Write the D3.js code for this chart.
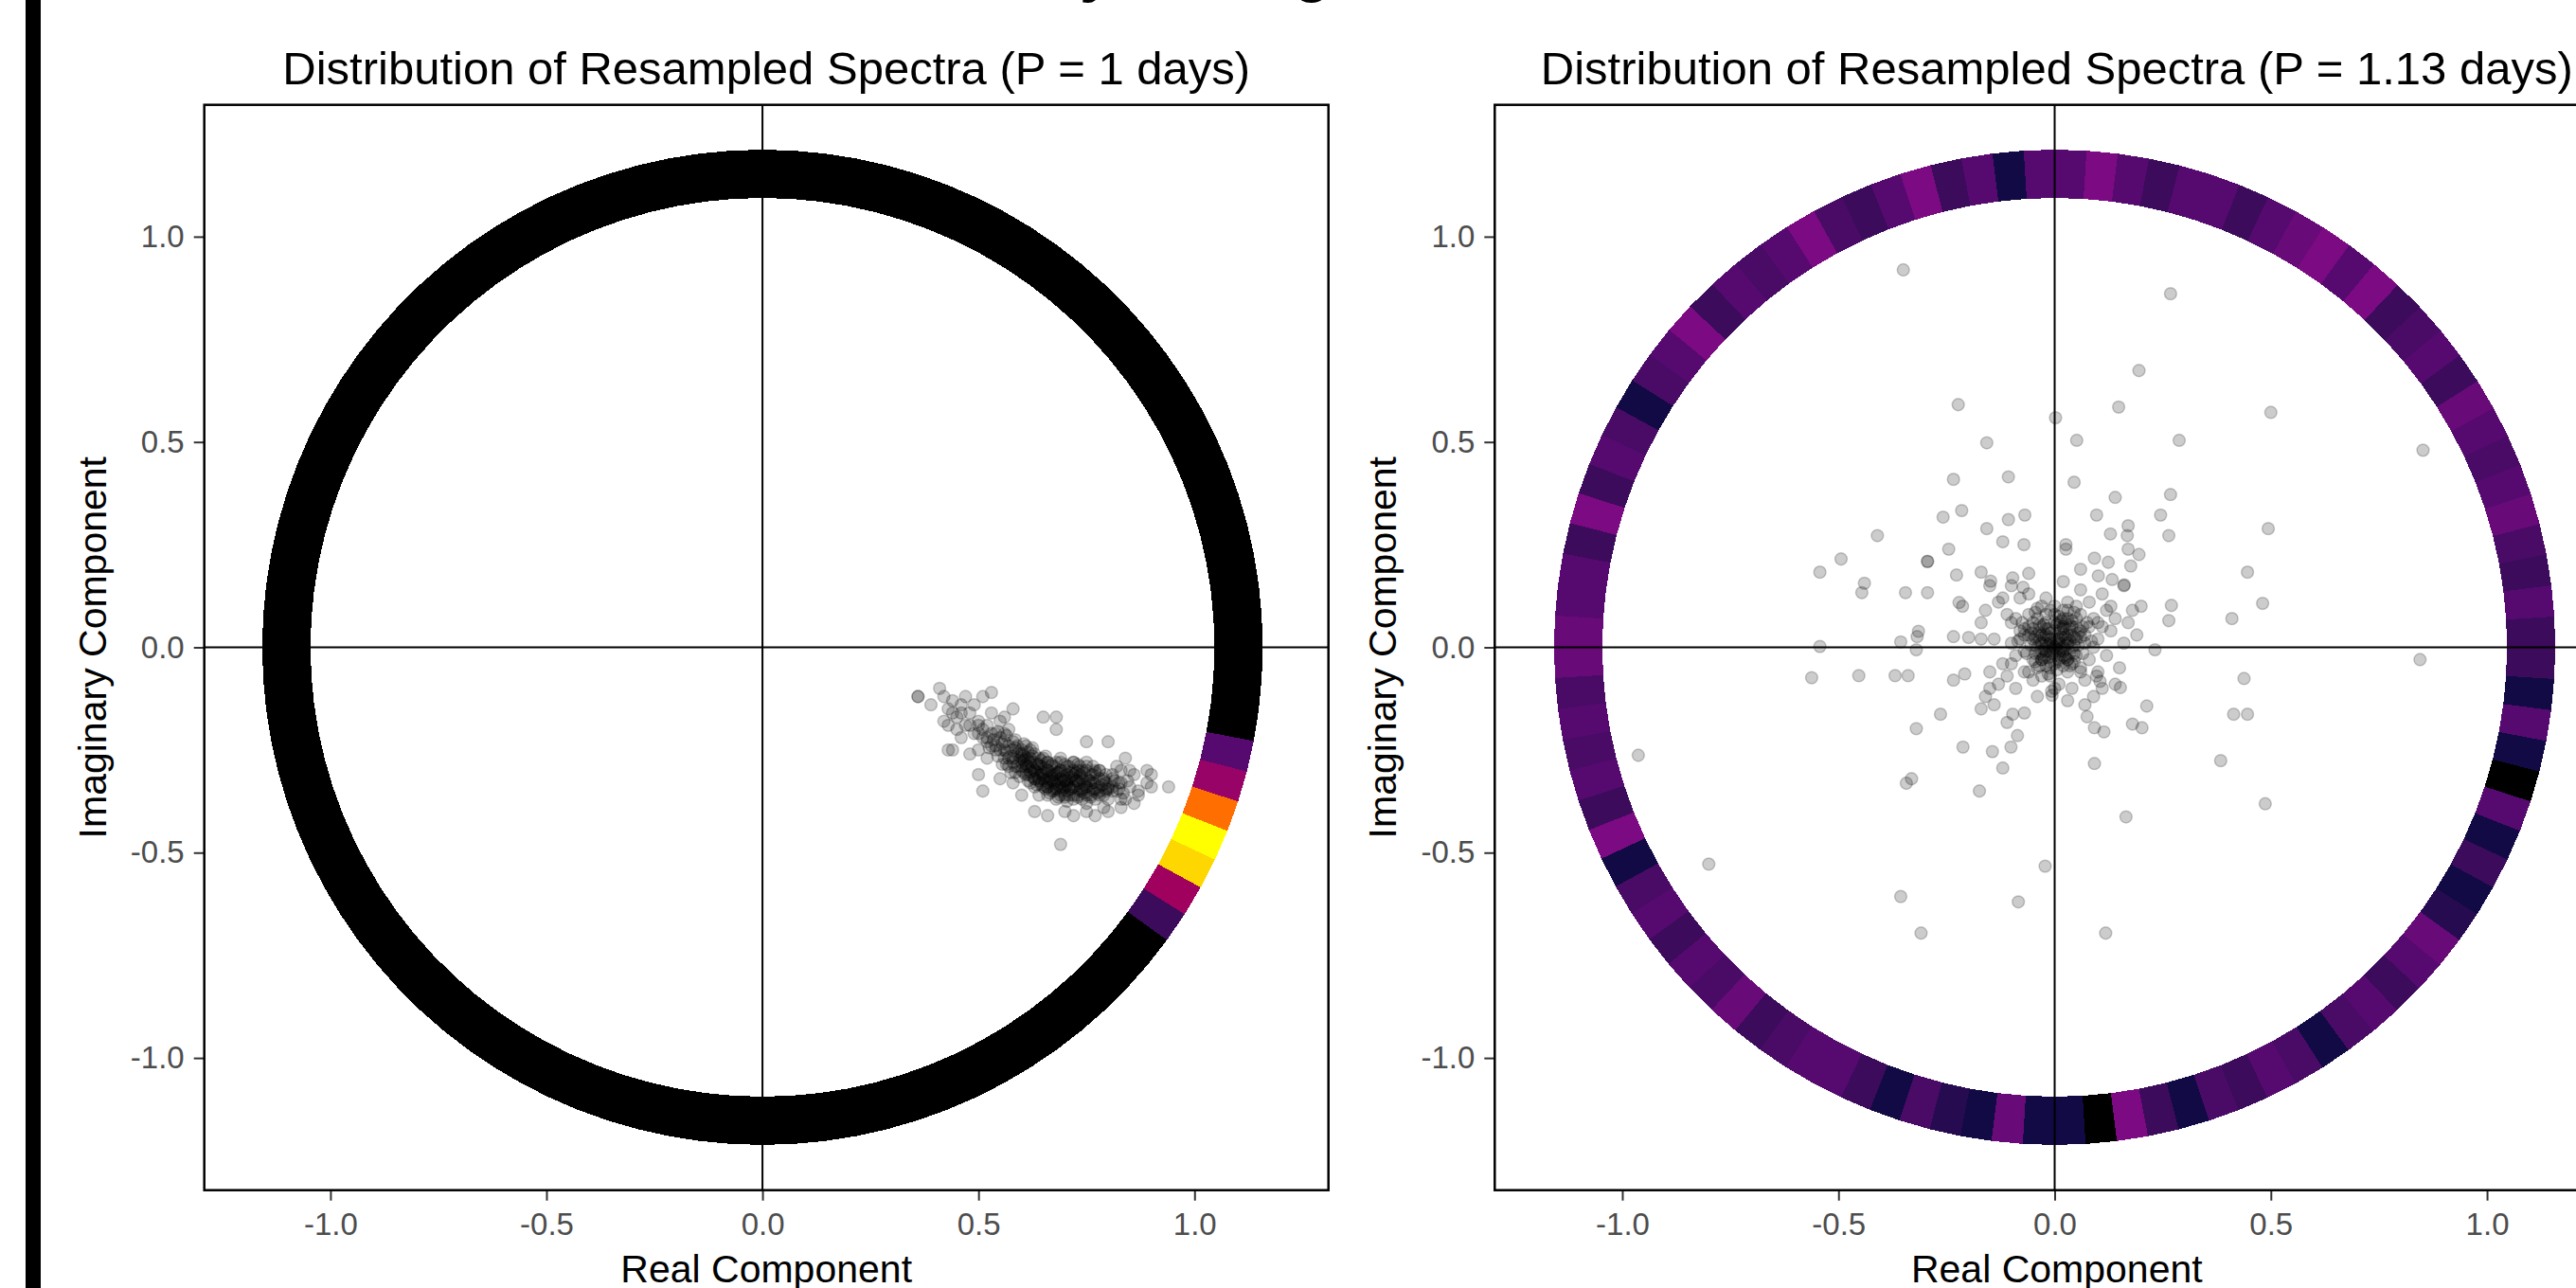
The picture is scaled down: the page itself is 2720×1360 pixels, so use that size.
<!DOCTYPE html>
<html>
<head>
<meta charset="utf-8">
<script src="https://cdn.jsdelivr.net/npm/d3@7"></script>
<style>
  body { margin: 0; background: #fff; }
  svg { display: block; }
  text { font-family: "Liberation Sans", Arial, sans-serif; }
</style>
</head>
<body>
<svg id="chart" width="2720" height="1360"></svg>
<script>
// ---- data ----
const X_TICKS = [-1, -0.5, 0, 0.5, 1];
const Y_TICKS = [-1, -0.5, 0, 0.5, 1];
const Y_DOMAIN = [-1.322, 1.321];
const RING_RX = 1.102;    // ring half-width along the real axis
const RING_RY = 1.153;    // ring half-height along the imaginary axis
const N_BINS = 100;       // phase bins around the ring

// left panel: phase density is zero except a few bins near -25 deg
const ringLeftHot = [[90, 0.25], [91, 0.6], [92, 0.9], [93, 1.0], [94, 0.8], [95, 0.57], [96, 0.38]];

// right panel: phase density per bin, counter-clockwise from 0 deg
const ringRight = [
  0.25, 0.38, 0.25, 0.315, 0.43, 0.38, 0.315, 0.38, 0.43, 0.25,
  0.38, 0.315, 0.25, 0.48, 0.38, 0.48, 0.43, 0.38, 0.25, 0.38,
  0.38, 0.25, 0.38, 0.48, 0.38, 0.38, 0.12, 0.38, 0.25, 0.48,
  0.38, 0.25, 0.315, 0.48, 0.38, 0.315, 0.38, 0.25, 0.48, 0.38,
  0.315, 0.12, 0.315, 0.38, 0.25, 0.48, 0.25, 0.38, 0.38, 0.43,
  0.43, 0.315, 0.38, 0.315, 0.38, 0.25, 0.48, 0.12, 0.315, 0.38,
  0.25, 0.38, 0.315, 0.43, 0.25, 0.315, 0.38, 0.38, 0.25, 0.12,
  0.315, 0.185, 0.12, 0.43, 0.12, 0.12, 0.0, 0.48, 0.25, 0.12,
  0.315, 0.25, 0.38, 0.315, 0.12, 0.315, 0.38, 0.25, 0.38, 0.43,
  0.185, 0.12, 0.25, 0.12, 0.38, 0.0, 0.12, 0.38, 0.12, 0.25
];

const pointsLeft = [
  // core
  [0.55,-0.25],[0.56,-0.27],[0.57,-0.24],[0.58,-0.28],[0.59,-0.26],[0.60,-0.29],[0.60,-0.25],[0.61,-0.31],
  [0.61,-0.27],[0.62,-0.28],[0.62,-0.33],[0.63,-0.30],[0.63,-0.26],[0.64,-0.32],[0.64,-0.29],[0.65,-0.34],
  [0.65,-0.31],[0.65,-0.27],[0.66,-0.30],[0.66,-0.33],[0.67,-0.29],[0.67,-0.35],[0.67,-0.32],[0.68,-0.31],
  [0.68,-0.34],[0.68,-0.28],[0.69,-0.33],[0.69,-0.30],[0.70,-0.36],[0.70,-0.32],[0.71,-0.29],[0.71,-0.34],
  [0.72,-0.31],[0.72,-0.37],[0.73,-0.33],[0.73,-0.30],[0.74,-0.35],[0.74,-0.32],[0.75,-0.34],[0.75,-0.29],
  [0.76,-0.36],[0.76,-0.31],[0.77,-0.33],[0.78,-0.35],[0.78,-0.30],[0.79,-0.32],[0.80,-0.34],[0.80,-0.37],
  [0.81,-0.31],[0.82,-0.35],[0.83,-0.33],[0.84,-0.37],[0.85,-0.34],[0.86,-0.31],[0.87,-0.36],
  [0.62,-0.30],[0.63,-0.34],[0.64,-0.36],[0.66,-0.36],[0.66,-0.28],[0.67,-0.31],[0.68,-0.37],[0.69,-0.35],
  [0.69,-0.27],[0.70,-0.30],[0.70,-0.34],[0.71,-0.32],[0.72,-0.34],[0.72,-0.28],[0.73,-0.36],[0.74,-0.30],
  [0.75,-0.38],[0.76,-0.33],[0.77,-0.37],[0.77,-0.30],[0.65,-0.32],[0.64,-0.27],[0.63,-0.32],[0.61,-0.29],
  [0.59,-0.29],[0.58,-0.25],[0.57,-0.29],[0.68,-0.32],[0.71,-0.36],[0.74,-0.37],[0.79,-0.36],[0.81,-0.35],
  [0.66,-0.34],[0.62,-0.25],[0.60,-0.27],
  [0.645,-0.305],[0.655,-0.295],[0.665,-0.315],[0.675,-0.325],[0.685,-0.305],[0.695,-0.315],[0.705,-0.325],
  [0.715,-0.315],[0.725,-0.325],[0.735,-0.345],[0.745,-0.335],[0.755,-0.325],[0.765,-0.345],[0.635,-0.285],
  [0.625,-0.295],[0.615,-0.275],[0.605,-0.265],[0.595,-0.275],[0.685,-0.335],[0.695,-0.345],[0.705,-0.335],
  [0.675,-0.345],[0.655,-0.325],[0.645,-0.335],[0.715,-0.345],[0.725,-0.305],[0.735,-0.315],[0.745,-0.355],
  [0.785,-0.335],[0.795,-0.345],[0.775,-0.355],[0.815,-0.325],[0.825,-0.345],[0.835,-0.355],[0.845,-0.325],
  [0.60,-0.28],[0.63,-0.28],[0.66,-0.28],[0.69,-0.28],[0.72,-0.28],[0.75,-0.28],
  [0.585,-0.29],[0.615,-0.29],[0.645,-0.29],[0.675,-0.29],[0.705,-0.29],[0.735,-0.29],[0.765,-0.29],
  [0.60,-0.30],[0.63,-0.30],[0.66,-0.30],[0.69,-0.30],[0.72,-0.30],[0.75,-0.30],[0.78,-0.30],
  [0.615,-0.31],[0.645,-0.31],[0.675,-0.31],[0.705,-0.31],[0.735,-0.31],[0.765,-0.31],[0.795,-0.31],
  [0.63,-0.32],[0.66,-0.32],[0.69,-0.32],[0.72,-0.32],[0.75,-0.32],[0.78,-0.32],[0.81,-0.32],
  [0.645,-0.33],[0.675,-0.33],[0.705,-0.33],[0.735,-0.33],[0.765,-0.33],[0.795,-0.33],[0.825,-0.33],
  [0.66,-0.34],[0.69,-0.34],[0.72,-0.34],[0.75,-0.34],[0.78,-0.34],[0.81,-0.34],
  [0.675,-0.35],[0.705,-0.35],[0.735,-0.35],[0.765,-0.35],[0.795,-0.35],
  [0.69,-0.36],[0.72,-0.36],[0.75,-0.36],[0.78,-0.36],
  [0.61,-0.285],[0.64,-0.285],[0.67,-0.285],[0.70,-0.285],[0.73,-0.285],
  [0.62,-0.305],[0.65,-0.305],[0.68,-0.305],[0.71,-0.305],[0.74,-0.305],[0.77,-0.305],
  [0.64,-0.325],[0.67,-0.325],[0.70,-0.325],[0.73,-0.325],[0.76,-0.325],[0.79,-0.325],
  [0.68,-0.345],[0.71,-0.345],[0.74,-0.345],[0.77,-0.345],[0.80,-0.345],
  [0.70,-0.365],[0.73,-0.365],[0.76,-0.365],
  [0.52,-0.23],[0.54,-0.25],[0.55,-0.22],[0.56,-0.25],[0.57,-0.27],[0.58,-0.23],[0.59,-0.24],[0.53,-0.21],
  [0.51,-0.20],[0.56,-0.21],[0.58,-0.27],[0.60,-0.26],[0.61,-0.24],[0.62,-0.27],[0.50,-0.19],
  [0.555,-0.235],[0.565,-0.255],[0.575,-0.265],[0.585,-0.245],[0.595,-0.255],[0.605,-0.275],[0.615,-0.255],
  [0.625,-0.265],[0.635,-0.305],[0.645,-0.275],[0.655,-0.265],[0.565,-0.285],[0.575,-0.305],[0.595,-0.315],
  [0.615,-0.325],[0.635,-0.335],[0.655,-0.345],[0.585,-0.225],[0.605,-0.235],[0.625,-0.245],[0.545,-0.265],
  [0.555,-0.285],[0.585,-0.305],[0.605,-0.305],[0.625,-0.315],[0.665,-0.355],[0.685,-0.365],[0.705,-0.375],
  [0.535,-0.225],[0.525,-0.245],[0.545,-0.205],[0.565,-0.215],
  // upper-left tail
  [0.36,-0.12],[0.36,-0.12],[0.39,-0.14],[0.41,-0.10],[0.42,-0.12],[0.43,-0.15],[0.44,-0.13],[0.45,-0.17],
  [0.46,-0.14],[0.47,-0.12],[0.47,-0.19],[0.48,-0.16],[0.49,-0.21],[0.49,-0.14],[0.50,-0.18],[0.51,-0.12],
  [0.51,-0.22],[0.52,-0.19],[0.53,-0.16],[0.53,-0.24],[0.54,-0.21],[0.55,-0.18],[0.56,-0.23],[0.57,-0.20],
  [0.43,-0.19],[0.44,-0.25],[0.46,-0.22],[0.50,-0.25],[0.52,-0.27],[0.48,-0.26],[0.58,-0.15],[0.56,-0.17],
  [0.45,-0.20],[0.42,-0.18],[0.46,-0.16],[0.48,-0.19],[0.50,-0.21],[0.52,-0.22],[0.54,-0.24],[0.44,-0.16],
  // lower part and stragglers
  [0.43,-0.25],[0.50,-0.31],[0.51,-0.35],[0.55,-0.32],[0.58,-0.33],[0.60,-0.36],[0.63,-0.40],[0.69,-0.48],
  [0.66,-0.41],[0.70,-0.40],[0.72,-0.41],[0.75,-0.40],[0.77,-0.41],[0.80,-0.40],[0.83,-0.39],[0.86,-0.38],
  [0.79,-0.39],[0.82,-0.29],[0.84,-0.27],[0.85,-0.30],[0.89,-0.30],[0.90,-0.31],[0.94,-0.34],[0.90,-0.34],
  [0.87,-0.35],[0.83,-0.37],[0.83,-0.30],[0.75,-0.23],[0.80,-0.23],[0.68,-0.17],[0.68,-0.20],[0.65,-0.17],
  [0.53,-0.11],[0.89,-0.33]
];

const pointsRight = [
  // scattered
  [-0.350,0.919],[0.268,0.861],[0.195,0.674],[-0.223,0.591],[0.148,0.585],[0.500,0.572],[0.002,0.559],
  [-0.157,0.498],[0.051,0.504],[0.288,0.504],[0.852,0.480],[-0.107,0.415],[-0.234,0.409],[0.045,0.402],
  [0.140,0.365],[0.268,0.372],[-0.215,0.333],[-0.258,0.317],[-0.069,0.322],[-0.107,0.311],[-0.157,0.289],
  [0.097,0.322],[0.170,0.296],[0.245,0.322],[0.494,0.289],[-0.410,0.272],[0.264,0.272],[0.129,0.276],
  [0.168,0.272],[-0.245,0.239],[-0.120,0.257],[-0.071,0.250],[0.026,0.250],[0.026,0.239],[0.195,0.226],
  [0.170,0.239],[-0.494,0.215],[-0.543,0.183],[-0.294,0.209],[-0.294,0.209],[0.092,0.217],[0.124,0.207],
  [-0.170,0.183],[-0.097,0.169],[-0.148,0.161],[-0.073,0.146],[-0.227,0.176],[0.446,0.183],[0.101,0.174],
  [0.176,0.198],[0.133,0.165],[0.161,0.152],[-0.440,0.156],[-0.446,0.133],[-0.345,0.133],[-0.294,0.133],
  [-0.221,0.109],[-0.213,0.100],[0.481,0.107],[0.270,0.102],[0.410,0.070],[0.264,0.065],[-0.315,0.039],
  [-0.318,0.026],[-0.320,-0.006],[-0.356,0.013],[-0.543,0.002],[-0.234,0.026],[-0.199,0.024],[-0.170,0.020],
  [0.232,-0.006],[-0.562,-0.074],[-0.453,-0.069],[-0.369,-0.069],[-0.339,-0.069],[-0.234,-0.080],
  [-0.208,-0.065],[0.845,-0.030],[0.438,-0.076],[0.152,-0.098],[0.105,-0.083],[0.097,-0.070],[0.414,-0.163],
  [0.446,-0.163],[0.075,-0.169],[0.213,-0.143],[0.180,-0.187],[0.202,-0.196],[0.092,-0.196],[0.114,-0.206],
  [-0.320,-0.198],[-0.264,-0.163],[-0.086,-0.215],[-0.101,-0.243],[-0.120,-0.294],[-0.212,-0.243],
  [-0.144,-0.254],[0.092,-0.283],[0.384,-0.276],[-0.963,-0.263],[-0.331,-0.320],[-0.343,-0.331],
  [-0.174,-0.350],[0.487,-0.381],[0.165,-0.413],[-0.800,-0.528],[-0.022,-0.533],[-0.356,-0.607],
  [-0.084,-0.620],[-0.309,-0.696],[0.118,-0.696],[-0.007,-0.107],[-0.006,-0.117],[-0.097,-0.163],
  [-0.110,-0.183],[-0.15,-0.10],[-0.16,-0.12],[-0.14,-0.14],[-0.17,-0.15],
  // core around the origin
  [0,0],[0.01,0.01],[-0.01,0.02],[0.02,-0.01],[-0.02,-0.01],[0.01,-0.03],[-0.03,0.01],[0.03,0.02],
  [0,0.04],[0,-0.04],[0.04,0],[-0.04,0],[0.02,0.03],[-0.02,0.03],[0.03,-0.03],[-0.03,-0.03],[0.05,0.02],
  [-0.05,0.02],[0.02,0.05],[-0.01,-0.05],[0.05,-0.02],[-0.05,-0.03],[0.01,0.06],[-0.02,0.06],[0.06,0.04],
  [-0.06,0.05],[0.04,0.05],[-0.04,-0.05],[0.03,-0.06],[0.06,-0.05],[0.01,0.02],[-0.01,-0.01],[0.02,0],
  [-0.02,0.01],[0,0.02],[0,-0.02],[0.01,-0.01],[-0.01,0.01],[0.03,0.01],[-0.03,-0.01],[0.02,-0.02],
  [-0.02,-0.02],[0.04,0.03],[-0.04,0.03],[0.04,-0.04],[-0.03,0.05],[0.02,0.07],[0.07,0.01],[-0.07,-0.01],
  [0,0.08],[-0.01,-0.07],[0.06,0.08],[-0.06,0.08],[0.08,-0.03],[-0.08,0.04],[0.05,0.1],[-0.05,-0.08],
  [0.09,0.07],[-0.09,0.07],[0.1,0.02],[-0.1,0.01],[0.07,-0.08],[-0.07,-0.06],[0.03,0.11],[-0.03,0.1],
  [0.11,0.05],[-0.11,0.08],[0.12,-0.02],[-0.12,-0.04],[0.04,-0.1],[-0.04,-0.12],[0.09,-0.12],[-0.09,-0.1],
  [0.13,0.1],[-0.13,0.11],[0.14,0.07],[-0.14,0.02],[0.15,-0.05],[-0.15,-0.06],[0.06,0.14],[-0.06,0.13],
  [0.02,0.16],[0.11,0.13],[-0.1,0.15],[0.16,0.01],[-0.16,0.09],[0.08,0.11],[-0.08,0.12],[0.12,0.09],
  [-0.12,0.12],[0.17,0.06],[0.18,0.09],[-0.17,0.06],[0.14,-0.09],[-0.13,-0.09],[0.07,-0.14],[-0.07,-0.16],
  [0.1,-0.06],[-0.1,-0.04],[0.05,0.07],[-0.05,0.06],[0.08,0.05],[-0.08,0.02],[0.09,0],[-0.09,-0.02],
  [0.02,0.09],[-0.02,0.12],[0.01,-0.09],[0.03,-0.13],[0.11,-0.1],[-0.11,-0.07],[0.19,0.03],[0.2,0.1],
  [0.13,0.04],[-0.06,0.18],[0.06,0.19],[0.16,0.15],[-0.15,0.15],
  [0.005,0.015],[-0.015,0.005],[0.015,-0.005],[-0.005,-0.015],[0.025,0.025],[-0.025,0.025],[0.025,-0.025],
  [-0.025,-0.025],[0.035,0.045],[-0.035,0.035],[0.045,-0.015],[-0.045,-0.015],
  [0.005,0.005],[-0.005,0.005],[0.005,-0.005],[-0.005,-0.005],[0.015,0.025],[-0.015,0.025],[0.015,-0.025],
  [-0.015,-0.025],[0.025,0.005],[-0.025,0.005],[0.025,-0.005],[-0.025,-0.005],[0.035,0.015],[-0.035,0.015],
  [0.035,-0.015],[-0.035,-0.015],[0.01,0.035],[-0.01,0.035],[0.01,-0.035],[-0.01,-0.035],[0.045,0.025],
  [-0.045,0.025],[0.045,-0.035],[-0.045,-0.035],[0.02,0.045],[-0.02,0.045],[0.02,-0.045],[-0.02,-0.045],
  [0.055,0.005],[-0.055,0.005],[0.005,0.055],[0.005,-0.055],[0.035,0.055],[-0.035,0.055],[0.055,0.035],
  [-0.055,0.035],[0.065,-0.015],[-0.065,-0.015],[0.015,0.065],[-0.015,-0.065],[0.07,0.03],[-0.07,0.03],
  [0.03,0.07],[-0.03,-0.07],[0.075,0.06],[-0.075,0.06],[0.045,0.085],[-0.045,0.085],[0.085,0.015],
  [-0.085,0.015],[0.06,-0.06],[-0.06,-0.06],[0.0,0.1],[0.0,-0.1],[0.1,0.06],[-0.1,0.06],[0.03,0.03],
  [-0.03,0.03],[0.03,-0.03],[-0.03,-0.03],
  [-0.04,0.07],[-0.02,0.08],[0.01,0.075],[0.04,0.065],[-0.06,0.03],[-0.05,0.045],[0.06,0.025],[0.05,0.05],
  [-0.025,0.055],[0.025,0.06],[-0.07,0.045],[0.065,0.05],[-0.015,0.045],[0.015,0.045],[-0.045,0.005],
  [0.045,0.005],[-0.035,-0.045],[0.035,-0.045],[0.0,0.06],[-0.01,0.09],[0.03,0.09],[-0.04,0.095]
];

const PANELS = [
  { title: 'Distribution of Resampled Spectra (P = 1 days)', left: 215.7, xDomain: [-1.292, 1.310],
    ring: d3.range(N_BINS).map(i => (ringLeftHot.find(h => h[0] === i) || [i, 0])[1]), points: pointsLeft },
  { title: 'Distribution of Resampled Spectra (P = 1.13 days)', left: 1578.3, xDomain: [-1.295, 1.305],
    ring: ringRight, points: pointsRight },
];

// ---- layout ----
const PANEL_TOP = 110.7;
const PANEL_W = 1187;
const PANEL_H = 1146;
const RING_W = 50;

const ringColour = d3.scaleLinear()
  .domain([0, 0.12, 0.25, 0.38, 0.48, 0.6, 0.8, 0.9, 1])
  .range(['#000000', '#120a44', '#3c0b5c', '#560a70', '#7c0a82', '#a0005e', '#ff6e00', '#ffd700', '#ffff00'])
  .clamp(true);

const svg = d3.select('#chart');
svg.append('rect').attr('width', 2720).attr('height', 1360).attr('fill', '#fff');

// black bar on the far left of the figure
svg.append('rect').attr('x', 27).attr('y', 0).attr('width', 16).attr('height', 1360).attr('fill', '#000');

// descenders of the figure heading, which is cropped off above
svg.append('text').attr('x', 1140).attr('y', -10).attr('font-size', 64).attr('font-weight', 700).text('y');
svg.append('text').attr('x', 1366).attr('y', -10).attr('font-size', 64).attr('font-weight', 700).text('g');

function ringSegment(i, x, y) {
  const cx = x(0), cy = y(0);
  const a0 = i * 2 * Math.PI / N_BINS, a1 = (i + 1) * 2 * Math.PI / N_BINS;
  const edge = (a, s) => {
    const px = x(RING_RX * Math.cos(a)), py = y(RING_RY * Math.sin(a));
    const l = Math.hypot(px - cx, py - cy);
    return [px + s * (px - cx) / l * RING_W / 2, py + s * (py - cy) / l * RING_W / 2];
  };
  return d3.line()([edge(a0, 1), edge(a1, 1), edge(a1, -1), edge(a0, -1)]) + 'Z';
}

function drawPanel(p) {
  const x = d3.scaleLinear().domain(p.xDomain).range([p.left, p.left + PANEL_W]);
  const y = d3.scaleLinear().domain(Y_DOMAIN).range([PANEL_TOP + PANEL_H, PANEL_TOP]);
  const g = svg.append('g');

  g.append('g').selectAll('path').data(p.ring).join('path')
    .attr('d', (d, i) => ringSegment(i, x, y))
    .attr('fill', d => ringColour(d))
    .attr('stroke', d => ringColour(d)).attr('stroke-width', 1)
    .attr('shape-rendering', 'crispEdges');

  g.append('line')
    .attr('x1', p.left).attr('x2', p.left + PANEL_W).attr('y1', y(0)).attr('y2', y(0))
    .attr('stroke', '#000').attr('stroke-width', 2);
  g.append('line')
    .attr('x1', x(0)).attr('x2', x(0)).attr('y1', PANEL_TOP).attr('y2', PANEL_TOP + PANEL_H)
    .attr('stroke', '#000').attr('stroke-width', 2);

  g.append('g').selectAll('circle').data(p.points).join('circle')
    .attr('cx', d => x(d[0])).attr('cy', d => y(d[1])).attr('r', 6.4)
    .attr('fill', '#000').attr('fill-opacity', 0.2)
    .attr('stroke', '#000').attr('stroke-opacity', 0.2).attr('stroke-width', 1.5);

  const xAxis = g.append('g').attr('transform', `translate(0,${PANEL_TOP + PANEL_H})`)
    .call(d3.axisBottom(x).tickValues(X_TICKS).tickFormat(d => d.toFixed(1)).tickSize(11).tickPadding(13));
  const yAxis = g.append('g').attr('transform', `translate(${p.left},0)`)
    .call(d3.axisLeft(y).tickValues(Y_TICKS).tickFormat(d => d.toFixed(1)).tickSize(11).tickPadding(10));
  for (const ax of [xAxis, yAxis]) {
    ax.select('.domain').remove();
    ax.selectAll('line').attr('stroke', '#333').attr('stroke-width', 2);
    ax.selectAll('text').attr('fill', '#4d4d4d').attr('font-size', 33)
      .attr('font-family', '"Liberation Sans", Arial, sans-serif');
  }

  g.append('rect')
    .attr('x', p.left).attr('y', PANEL_TOP).attr('width', PANEL_W).attr('height', PANEL_H)
    .attr('fill', 'none').attr('stroke', '#000').attr('stroke-width', 2.5);

  g.append('text')
    .attr('x', p.left + PANEL_W / 2).attr('y', 89)
    .attr('text-anchor', 'middle').attr('font-size', 49).attr('fill', '#000')
    .text(p.title);

  g.append('text')
    .attr('x', p.left + PANEL_W / 2).attr('y', 1354)
    .attr('text-anchor', 'middle').attr('font-size', 41).attr('fill', '#000')
    .text('Real Component');

  g.append('text')
    .attr('transform', `translate(${p.left - 104},${PANEL_TOP + PANEL_H / 2}) rotate(-90)`)
    .attr('text-anchor', 'middle').attr('font-size', 41).attr('fill', '#000')
    .text('Imaginary Component');
}

PANELS.forEach(drawPanel);
</script>
</body>
</html>
